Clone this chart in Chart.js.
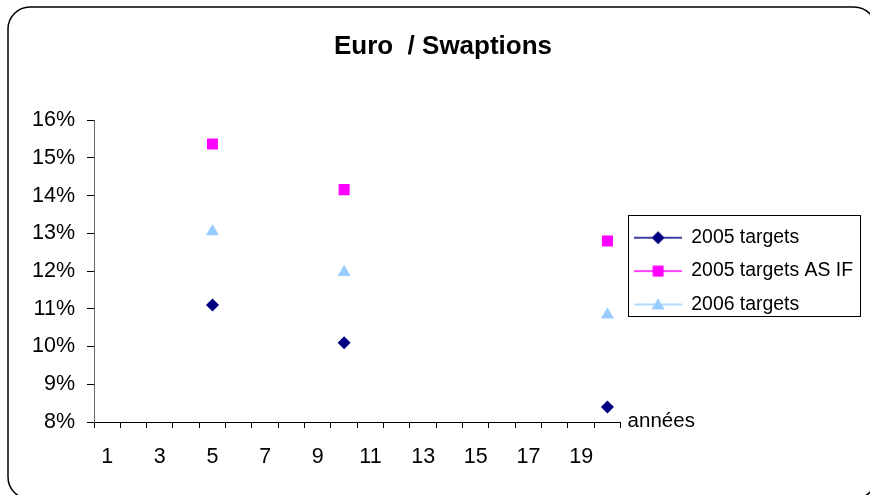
<!DOCTYPE html>
<html>
<head>
<meta charset="utf-8">
<script src="https://cdn.jsdelivr.net/npm/chart.js@4.4.1/dist/chart.umd.min.js"></script>
<style>
html,body{margin:0;padding:0;background:#fff;}
#c{display:block;}
</style>
</head>
<body>
<canvas id="c" width="870" height="495"></canvas>
<script>
// ---- data ----
const chartTitle = 'Euro  / Swaptions';
const xAxisTitle = 'années';
const categories = ['1','2','3','4','5','6','7','8','9','10','11','12','13','14','15','16','17','18','19','20'];
const maturities = ['5', '10', '20'];
const seriesNames = ['2005 targets', '2005 targets AS IF', '2006 targets'];
const targets2005 = [11.1, 10.1, 8.4];
const targets2005AsIf = [15.37, 14.16, 12.8];
const targets2006 = [13.05, 11.97, 10.84];
const yMin = 8;
const yMax = 16;
const yStep = 1;

// ---- styling ----
const FONT = "'Liberation Sans', Arial, sans-serif";
const colors = ['#000080', '#FF00FF', '#99CCFF'];
const styles = ['rectRot', 'rect', 'triangle'];
const radii = [6.5, 7.8, 7.5];

function drawMarker(ctx, style, r, x, y) {
  ctx.beginPath();
  if (style === 'rectRot') {
    ctx.moveTo(x - r, y); ctx.lineTo(x, y - r); ctx.lineTo(x + r, y); ctx.lineTo(x, y + r);
  } else if (style === 'rect') {
    const s = Math.SQRT1_2 * r;
    ctx.rect(x - s, y - s, 2 * s, 2 * s);
  } else {
    ctx.moveTo(x, y - r * 0.85);
    ctx.lineTo(x + r * 0.866, y + r * 0.65);
    ctx.lineTo(x - r * 0.866, y + r * 0.65);
  }
  ctx.closePath();
  ctx.fill();
}

function legendImage(color, style, r) {
  const cv = document.createElement('canvas');
  cv.width = 48; cv.height = 18;
  const ctx = cv.getContext('2d');
  ctx.strokeStyle = color;
  ctx.lineWidth = 1.5;
  ctx.beginPath(); ctx.moveTo(0, 9); ctx.lineTo(48, 9); ctx.stroke();
  ctx.fillStyle = color;
  drawMarker(ctx, style, r, 24, 9);
  return cv;
}
const legendImages = colors.map((c, i) => legendImage(c, styles[i], radii[i]));

const seriesValues = [targets2005, targets2005AsIf, targets2006];
const datasets = seriesNames.map((name, i) => ({
  label: name,
  data: maturities.map((m, j) => ({ x: m, y: seriesValues[i][j] })),
  showLine: false,
  backgroundColor: colors[i],
  borderColor: colors[i],
  pointStyle: styles[i],
  pointRadius: radii[i],
  pointBorderWidth: 0,
  pointHoverRadius: radii[i]
}));

const framePlugin = {
  id: 'frame',
  beforeDraw(chart) {
    const ctx = chart.ctx;
    ctx.save();
    ctx.fillStyle = '#fff';
    ctx.fillRect(0, 0, chart.width, chart.height);
    ctx.strokeStyle = '#000';
    ctx.lineWidth = 1.5;
    ctx.beginPath();
    ctx.roundRect(8, 7, 868, 492, 22);
    ctx.stroke();
    ctx.restore();
  },
  afterDraw(chart) {
    const ctx = chart.ctx;
    const area = chart.chartArea;
    ctx.save();
    // axis title at the end of the x axis
    ctx.fillStyle = '#000';
    ctx.font = '20.5px ' + FONT;
    ctx.textBaseline = 'middle';
    ctx.textAlign = 'left';
    ctx.fillText(xAxisTitle, area.right + 7, area.bottom - 1);
    // legend frame
    const hb = chart.legend.legendHitBoxes;
    if (hb && hb.length) {
      let l = Infinity, r = -Infinity, t = Infinity, b = -Infinity;
      hb.forEach(h => { l = Math.min(l, h.left); r = Math.max(r, h.left + h.width); t = Math.min(t, h.top); b = Math.max(b, h.top + h.height); });
      ctx.strokeStyle = '#000';
      ctx.lineWidth = 1;
      ctx.strokeRect(Math.round(l - 7) + 0.5, Math.round(t - 13) + 0.5, Math.round(r - l + 14), Math.round(b - t + 15));
    }
    ctx.restore();
  }
};

new Chart(document.getElementById('c'), {
  type: 'line',
  data: { labels: categories, datasets: datasets },
  plugins: [framePlugin],
  options: {
    responsive: false,
    animation: false,
    events: [],
    layout: { padding: { left: 23, right: 7, top: 0, bottom: 0 } },
    plugins: {
      title: {
        display: true,
        text: chartTitle,
        color: '#000',
        font: { family: FONT, size: 26, weight: 'bold' },
        padding: { top: 31, bottom: 58 }
      },
      legend: {
        position: 'right',
        fullSize: false,
        align: 'center',
        maxWidth: 300,
        labels: {
          usePointStyle: true,
          pointStyleWidth: 47,
          padding: 14,
          color: '#000',
          font: { family: FONT, size: 19.4 },
          generateLabels: chart => chart.data.datasets.map((ds, i) => ({
            text: ds.label,
            fillStyle: ds.backgroundColor,
            strokeStyle: ds.borderColor,
            lineWidth: 0,
            pointStyle: legendImages[i],
            hidden: false,
            datasetIndex: i,
            fontColor: '#000'
          }))
        }
      },
      tooltip: { enabled: false }
    },
    scales: {
      x: {
        type: 'category',
        offset: true,
        grid: { offset: true, drawOnChartArea: false, drawTicks: true, tickLength: 6, color: '#000', lineWidth: 1 },
        border: { color: '#000', width: 1 },
        ticks: {
          autoSkip: false, maxRotation: 0, minRotation: 0, padding: 16, color: '#000',
          font: { family: FONT, size: 21.5 },
          callback: (v, i) => (i % 2 === 0 ? categories[i] : '')
        },
        afterFit: s => { s.height = 73; }
      },
      y: {
        min: yMin,
        max: yMax,
        grid: { drawOnChartArea: false, drawTicks: true, tickLength: 7, color: '#000', lineWidth: 1 },
        border: { color: '#666', width: 1 },
        ticks: {
          stepSize: yStep, padding: 12, color: '#000',
          font: { family: FONT, size: 21.5 },
          callback: v => v + '%'
        },
        afterFit: s => { s.width = 71; }
      }
    }
  }
});
</script>
</body>
</html>
